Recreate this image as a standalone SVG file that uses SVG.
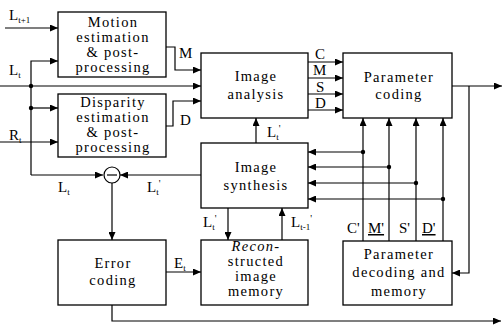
<svg xmlns="http://www.w3.org/2000/svg" width="504" height="327" viewBox="0 0 504 327">
<style>
.box{fill:#fff;stroke:#000;stroke-width:1.3}
.bt{font-family:"Liberation Serif","Times New Roman",serif;font-size:14.5px;letter-spacing:1.3px;text-anchor:middle;fill:#000}
.lb{font-family:"Liberation Serif","Times New Roman",serif;font-size:15px;fill:#000}
.sub{font-size:9px}
.ln{fill:none;stroke:#000;stroke-width:1.2}
.dot{fill:#000}
</style>
<defs>
<marker id="ah" markerUnits="userSpaceOnUse" markerWidth="8" markerHeight="7" refX="8" refY="3.5" orient="auto">
<path d="M0,0 L8,3.5 L0,7 z" fill="#000"/>
</marker>
</defs>
<rect width="504" height="327" fill="#fff"/>

<g id="connectors">
<path class="ln" d="M5,28 H58" marker-end="url(#ah)"/>
<path class="ln" d="M31,175 V61 H58" marker-end="url(#ah)"/>
<path class="ln" d="M31,175 H103" marker-end="url(#ah)"/>
<path class="ln" d="M0,86 H201" marker-end="url(#ah)"/>
<path class="ln" d="M31,108 H58" marker-end="url(#ah)"/>
<path class="ln" d="M0,142 H58" marker-end="url(#ah)"/>
<path class="ln" d="M166,47 H175 V70 H201" marker-end="url(#ah)"/>
<path class="ln" d="M166,126 H173 V101 H201" marker-end="url(#ah)"/>
<path class="ln" d="M308,62 H343" marker-end="url(#ah)"/>
<path class="ln" d="M308,78 H343" marker-end="url(#ah)"/>
<path class="ln" d="M308,94 H343" marker-end="url(#ah)"/>
<path class="ln" d="M308,110 H343" marker-end="url(#ah)"/>
<path class="ln" d="M256,143 V118" marker-end="url(#ah)"/>
<path class="ln" d="M452,86 H502" marker-end="url(#ah)"/>
<path class="ln" d="M469,86 V273 H452" marker-end="url(#ah)"/>
<path class="ln" d="M363,241 V118" marker-end="url(#ah)"/>
<path class="ln" d="M389,241 V118" marker-end="url(#ah)"/>
<path class="ln" d="M416,241 V118" marker-end="url(#ah)"/>
<path class="ln" d="M443,241 V118" marker-end="url(#ah)"/>
<path class="ln" d="M363,152 H308" marker-end="url(#ah)"/>
<path class="ln" d="M389,167 H308" marker-end="url(#ah)"/>
<path class="ln" d="M416,183 H308" marker-end="url(#ah)"/>
<path class="ln" d="M443,199 H308" marker-end="url(#ah)"/>
<path class="ln" d="M201,175 H120" marker-end="url(#ah)"/>
<path class="ln" d="M112,183 V240" marker-end="url(#ah)"/>
<path class="ln" d="M166,272 H201" marker-end="url(#ah)"/>
<path class="ln" d="M228,208 V240" marker-end="url(#ah)"/>
<path class="ln" d="M282,240 V208" marker-end="url(#ah)"/>
<path class="ln" d="M112,305 V321 H501" marker-end="url(#ah)"/>
<circle class="dot" cx="31" cy="86" r="2.2"/>
<circle class="dot" cx="31" cy="108" r="2.2"/>
<circle class="dot" cx="363" cy="152" r="2.2"/>
<circle class="dot" cx="389" cy="167" r="2.2"/>
<circle class="dot" cx="416" cy="183" r="2.2"/>
<circle class="dot" cx="443" cy="199" r="2.2"/>
</g>

<g id="labels">
<text class="lb" x="9" y="20">L<tspan class="sub" dy="3">t+1</tspan></text>
<text class="lb" x="9" y="75">L<tspan class="sub" dy="3">t</tspan></text>
<text class="lb" x="9" y="140">R<tspan class="sub" dy="3">t</tspan></text>
<text class="lb" x="179" y="58">M</text>
<text class="lb" x="180" y="125">D</text>
<text class="lb" x="315" y="59">C</text>
<text class="lb" x="313" y="75">M</text>
<text class="lb" x="316" y="92">S</text>
<text class="lb" x="315" y="108">D</text>
<text class="lb" x="267" y="137">L<tspan class="sub" dy="3">t</tspan><tspan dy="-8" font-size="10">'</tspan></text>
<text class="lb" x="58" y="192">L<tspan class="sub" dy="3">t</tspan></text>
<text class="lb" x="147" y="192">L<tspan class="sub" dy="3">t</tspan><tspan dy="-8" font-size="10">'</tspan></text>
<text class="lb" x="203" y="227">L<tspan class="sub" dy="3">t</tspan><tspan dy="-8" font-size="10">'</tspan></text>
<text class="lb" x="291" y="227">L<tspan class="sub" dy="3">t-1</tspan><tspan dy="-8" font-size="10">'</tspan></text>
<text class="lb" x="174" y="268">E<tspan class="sub" dy="3">t</tspan></text>
<text class="lb" x="347" y="233">C'</text>
<text class="lb" x="368" y="233" text-decoration="underline">M'</text>
<text class="lb" x="399" y="233">S'</text>
<text class="lb" x="422" y="233" text-decoration="underline">D'</text>
</g>

<g id="motion">
<rect class="box" x="58" y="12" width="108" height="65"/>
<text class="bt" x="113" y="27">Motion</text>
<text class="bt" x="113" y="42">estimation</text>
<text class="bt" x="113" y="57">&amp; post-</text>
<text class="bt" x="113" y="72">processing</text>
</g>
<g id="disparity">
<rect class="box" x="58" y="94" width="108" height="63"/>
<text class="bt" x="113" y="107">Disparity</text>
<text class="bt" x="113" y="122">estimation</text>
<text class="bt" x="113" y="137">&amp; post-</text>
<text class="bt" x="113" y="152">processing</text>
</g>
<g id="analysis">
<rect class="box" x="201" y="53" width="107" height="65"/>
<text class="bt" x="256" y="81">Image</text>
<text class="bt" x="256" y="99">analysis</text>
</g>
<g id="paramcoding">
<rect class="box" x="343" y="53" width="109" height="65"/>
<text class="bt" x="399" y="82">Parameter</text>
<text class="bt" x="399" y="99">coding</text>
</g>
<g id="synthesis">
<rect class="box" x="201" y="143" width="107" height="65"/>
<text class="bt" x="256" y="172">Image</text>
<text class="bt" x="256" y="190">synthesis</text>
</g>
<g id="subtractor">
<circle cx="112" cy="175" r="8" fill="#fff" stroke="#000" stroke-width="1.2"/>
<line x1="107" y1="175" x2="117" y2="175" stroke="#000" stroke-width="1.2"/>
</g>
<g id="errorcoding">
<rect class="box" x="58" y="240" width="108" height="65"/>
<text class="bt" x="113" y="268">Error</text>
<text class="bt" x="113" y="285">coding</text>
</g>
<g id="reconmemory">
<rect class="box" x="201" y="240" width="107" height="65"/>
<text class="bt" x="256" y="251" font-style="italic">Recon-</text>
<text class="bt" x="256" y="266">structed</text>
<text class="bt" x="256" y="281">image</text>
<text class="bt" x="256" y="296">memory</text>
</g>
<g id="paramdecoding">
<rect class="box" x="343" y="241" width="109" height="64"/>
<text class="bt" x="399" y="259">Parameter</text>
<text class="bt" x="399" y="277">decoding and</text>
<text class="bt" x="399" y="296">memory</text>
</g>
</svg>
